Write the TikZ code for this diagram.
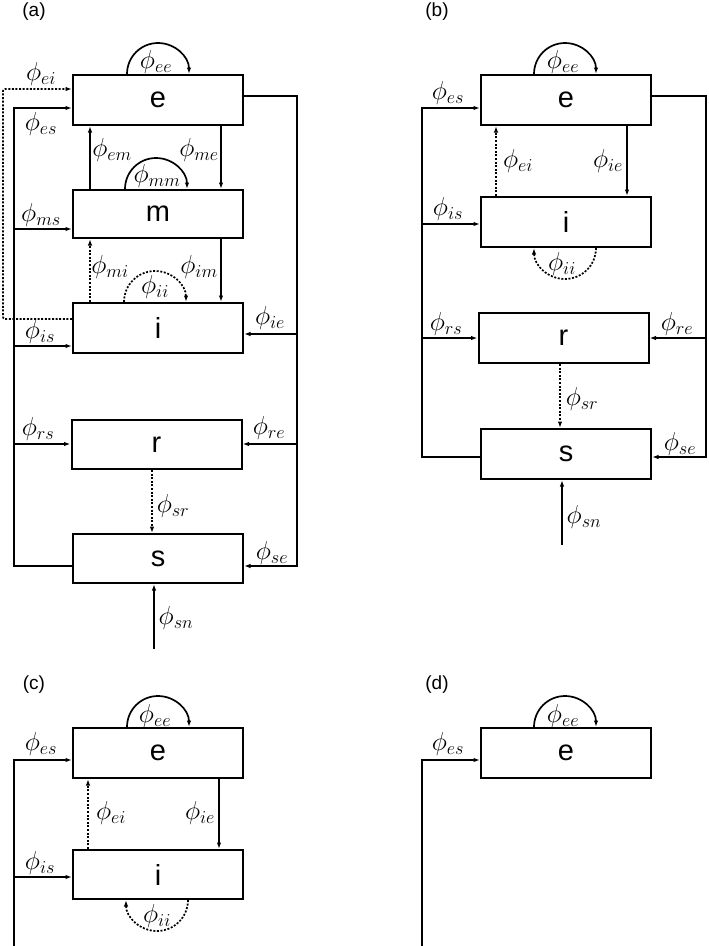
\RequirePackage{fix-cm}
\documentclass[tikz,border=0pt]{standalone}
\usepackage{fontspec}
\setsansfont{Liberation Sans}
\usetikzlibrary{arrows.meta,calc}
\tikzset{
  box/.style={draw,line width=2pt,minimum width=170pt,minimum height=50pt,inner sep=0pt,font=\sffamily\fontsize{29}{29}\selectfont},
  flow/.style={line width=1.7pt,-{Latex[length=6.5pt,width=4.5pt]}},
  dflow/.style={flow,dash pattern=on 2pt off 1.6pt},
  lab/.style={inner sep=0pt,font=\fontsize{26}{26}\selectfont},
  ptag/.style={inner sep=0pt,font=\sffamily\fontsize{19}{19}\selectfont},
}
\begin{document}
\begin{tikzpicture}[x=1pt,y=1pt]
\useasboundingbox (0,0) rectangle (709,-946);

% ---------------- panel (a)
\node[ptag] (ta) at (34,-12) {(a)};
\node[box] (ea) at (158,-100) {e};
\node[box,minimum height=48pt] (ma) at (158,-214) {m};
\node[box] (ia) at (158,-328) {i};
\node[box,minimum height=49pt] (ra) at (156.5,-444.5) {r};
\node[box,minimum height=49pt] (sa) at (158,-558.5) {s};

\coordinate (aLt) at (14,-108);
\coordinate (aLb) at (14,-566);
\coordinate (aLm) at (14,-229);
\coordinate (aLi) at (14,-346);
\coordinate (aLr) at (14,-444);
\draw[flow] (sa.west |- aLb) -- (aLb) -- (aLt) -- (ea.west |- aLt);
\draw[flow] (aLm) -- (ma.west |- aLm);
\draw[flow] (aLi) -- (ia.west |- aLi);
\draw[flow] (aLr) -- (ra.west |- aLr);

\coordinate (aRt) at (297,-96);
\coordinate (aRb) at (297,-566);
\coordinate (aRi) at (297,-334);
\coordinate (aRr) at (297,-444);
\draw[flow] (ea.east |- aRt) -- (aRt) -- (aRb) -- (sa.east |- aRb);
\draw[flow] (aRi) -- (ia.east |- aRi);
\draw[flow] (aRr) -- (ra.east |- aRr);

\coordinate (aDt) at (3,-89);
\coordinate (aDb) at (3,-319);
\draw[dflow,rounded corners=2pt] (ia.west |- aDb) -- (aDb) -- (aDt) -- (ea.west |- aDt);

\coordinate (aem) at (90,0);
\coordinate (ame) at (221,0);
\draw[flow] (ma.north -| aem) -- (ea.south -| aem);
\draw[flow] (ea.south -| ame) -- (ma.north -| ame);
\draw[dflow] (ia.north -| aem) -- (ma.south -| aem);
\draw[flow] (ma.south -| ame) -- (ia.north -| ame);
\coordinate (asr) at (152,0);
\draw[dflow] (ra.south -| asr) -- (sa.north -| asr);
\coordinate (asn) at (154,-649);
\draw[flow] (asn) -- (sa.south -| asn);

\draw[flow] ($(ea.north)+(-31,0)$) arc[start angle=180,end angle=0,radius=31];
\draw[flow] ($(ma.north)+(-33,0)$) arc[start angle=180,end angle=0,radius=31];
\draw[dflow] ($(ia.north)+(-34,0)$) arc[start angle=180,end angle=0,radius=31];

\node[lab] (laee) at (156,-62) {$\phi_{ee}$};
\node[lab] (laei) at (41,-74) {$\phi_{ei}$};
\node[lab] (laes) at (41,-124) {$\phi_{es}$};
\node[lab] (laem) at (112,-150) {$\phi_{em}$};
\node[lab] (lame) at (199,-150) {$\phi_{me}$};
\node[lab] (lamm) at (157,-176) {$\phi_{mm}$};
\node[lab] (lams) at (41,-215) {$\phi_{ms}$};
\node[lab] (lami) at (110,-267) {$\phi_{mi}$};
\node[lab] (laim) at (199,-267) {$\phi_{im}$};
\node[lab] (laii) at (155,-287) {$\phi_{ii}$};
\node[lab] (laie) at (270,-318) {$\phi_{ie}$};
\node[lab] (lais) at (40,-332) {$\phi_{is}$};
\node[lab] (lars) at (38,-429) {$\phi_{rs}$};
\node[lab] (lare) at (269,-428) {$\phi_{re}$};
\node[lab] (lasr) at (173,-506) {$\phi_{sr}$};
\node[lab] (lase) at (272,-553) {$\phi_{se}$};
\node[lab] (lasn) at (176,-618) {$\phi_{sn}$};

% ---------------- panel (b)
\node[ptag] (tb) at (437,-12) {(b)};
\node[box] (eb) at (566,-100) {e};
\node[box] (ib) at (566,-222) {i};
\node[box] (rb) at (563.5,-338) {r};
\node[box] (sb) at (566,-454) {s};

\coordinate (bLt) at (422,-108);
\coordinate (bLb) at (422,-457);
\coordinate (bLi) at (422,-224);
\coordinate (bLr) at (422,-338);
\draw[flow] (sb.west |- bLb) -- (bLb) -- (bLt) -- (eb.west |- bLt);
\draw[flow] (bLi) -- (ib.west |- bLi);
\draw[flow] (bLr) -- (rb.west |- bLr);

\coordinate (bRt) at (706,-96);
\coordinate (bRb) at (706,-457);
\coordinate (bRr) at (706,-338);
\draw[flow] (eb.east |- bRt) -- (bRt) -- (bRb) -- (sb.east |- bRb);
\draw[flow] (bRr) -- (rb.east |- bRr);

\coordinate (bei) at (496,0);
\coordinate (bie) at (627,0);
\draw[dflow] (ib.north -| bei) -- (eb.south -| bei);
\draw[flow] (eb.south -| bie) -- (ib.north -| bie);
\coordinate (bsr) at (560,0);
\draw[dflow] (rb.south -| bsr) -- (sb.north -| bsr);
\coordinate (bsn) at (562,-545);
\draw[flow] (bsn) -- (sb.south -| bsn);

\draw[flow] ($(eb.north)+(-32,0)$) arc[start angle=180,end angle=0,radius=31];
\draw[dflow] ($(ib.south)+(30,0)$) arc[start angle=0,end angle=-180,radius=31];

\node[lab] (lbee) at (563,-62) {$\phi_{ee}$};
\node[lab] (lbes) at (448,-93) {$\phi_{es}$};
\node[lab] (lbei) at (518,-161) {$\phi_{ei}$};
\node[lab] (lbie) at (608,-161) {$\phi_{ie}$};
\node[lab] (lbis) at (448,-209) {$\phi_{is}$};
\node[lab] (lbii) at (562,-264) {$\phi_{ii}$};
\node[lab] (lbrs) at (446,-324) {$\phi_{rs}$};
\node[lab] (lbre) at (677,-324) {$\phi_{re}$};
\node[lab] (lbsr) at (582,-399) {$\phi_{sr}$};
\node[lab] (lbse) at (680,-444) {$\phi_{se}$};
\node[lab] (lbsn) at (584,-517) {$\phi_{sn}$};

% ---------------- panel (c)
\node[ptag] (tc) at (34,-685) {(c)};
\node[box] (ec) at (158,-753) {e};
\node[box,minimum height=49pt] (ic) at (158,-874.5) {i};

\coordinate (cLt) at (14,-760);
\coordinate (cLb) at (14,-946);
\coordinate (cLi) at (14,-877);
\draw[flow] (cLb) -- (cLt) -- (ec.west |- cLt);
\draw[flow] (cLi) -- (ic.west |- cLi);

\coordinate (cei) at (88,0);
\coordinate (cie) at (219,0);
\draw[dflow] (ic.north -| cei) -- (ec.south -| cei);
\draw[flow] (ec.south -| cie) -- (ic.north -| cie);

\draw[flow] ($(ec.north)+(-31,0)$) arc[start angle=180,end angle=0,radius=31];
\draw[dflow] ($(ic.south)+(30,0)$) arc[start angle=0,end angle=-180,radius=31];

\node[lab] (lcee) at (155,-716) {$\phi_{ee}$};
\node[lab] (lces) at (41,-744) {$\phi_{es}$};
\node[lab] (lcei) at (111,-813) {$\phi_{ei}$};
\node[lab] (lcie) at (200,-813) {$\phi_{ie}$};
\node[lab] (lcis) at (40,-863) {$\phi_{is}$};
\node[lab] (lcii) at (157,-916) {$\phi_{ii}$};

% ---------------- panel (d)
\node[ptag] (td) at (437,-685) {(d)};
\node[box] (ed) at (566,-753) {e};
\coordinate (dLt) at (422,-760);
\coordinate (dLb) at (422,-946);
\draw[flow] (dLb) -- (dLt) -- (ed.west |- dLt);
\draw[flow] ($(ed.north)+(-32,0)$) arc[start angle=180,end angle=0,radius=31];
\node[lab] (ldee) at (563,-716) {$\phi_{ee}$};
\node[lab] (ldes) at (448,-744) {$\phi_{es}$};
\end{tikzpicture}
\end{document}
